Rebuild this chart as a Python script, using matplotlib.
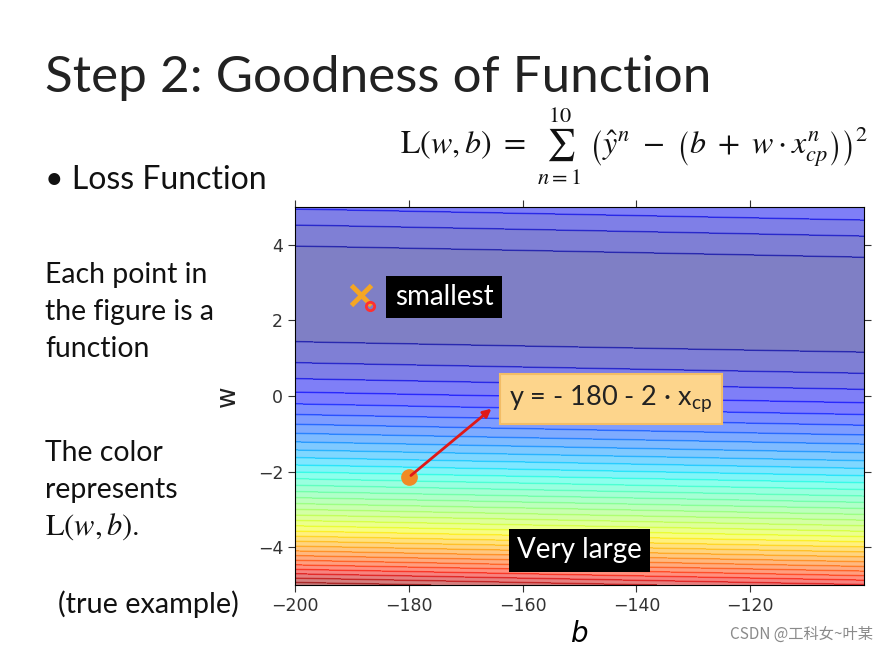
import numpy as np
import matplotlib
matplotlib.use("Agg")
import matplotlib.pyplot as plt

# pokemon data behind the loss surface (cp before evolution, cp after)
x_cp = [338., 333., 328., 207., 226., 25., 179., 60., 208., 606.]
y_hat = [640., 633., 619., 393., 428., 27., 193., 66., 226., 1591.]

b_range = [-200, -100]
w_range = [-5, 5]
b_ticks = [-200, -180, -160, -140, -120]
w_ticks = [-4, -2, 0, 2, 4]

best_b, best_w = -188.4, 2.67      # "smallest"
start_b, start_w = -180, -2.15     # orange point y = -180 - 2*x_cp
mark_b, mark_w = -186.9, 2.39      # red ring next to the cross

plt.rcParams['mathtext.fontset'] = 'custom'
plt.rcParams['mathtext.rm'] = 'Lato'
plt.rcParams['mathtext.it'] = 'Lato:italic'
SANS = 'Lato'

b = np.linspace(b_range[0], b_range[1], 201)
w = np.linspace(w_range[0], w_range[1], 201)
B, W = np.meshgrid(b, w)
Z = np.zeros_like(B)
for xn, yn in zip(x_cp, y_hat):
    Z += (yn - B - W * xn) ** 2
Z = Z / len(x_cp)

fig = plt.figure(figsize=(8.89, 6.54), dpi=100)
ax = fig.add_axes([0.3318, 0.1055, 0.6401, 0.578])

cs = ax.contourf(B, W, Z, 50, alpha=0.5, cmap=plt.get_cmap('jet'))
ax.contour(B, W, Z, levels=cs.levels, cmap=plt.get_cmap('jet'), alpha=0.35, linewidths=1.3)

ax.set_xlim(b_range)
ax.set_ylim(w_range)
ax.set_xticks(b_ticks)
ax.set_yticks(w_ticks)
ax.tick_params(direction='out', top=True, right=True, length=5, labelsize=12.5, colors='#333333')
ax.set_xlabel('$b$', fontsize=20, math_fontfamily='dejavusans', labelpad=4)
ax.set_ylabel('w', fontsize=19, family='DejaVu Sans', labelpad=12, color='#222222')

# markers
ax.plot(best_b, best_w, 'x', color='#f5a623', ms=14, mew=3.5)
ax.plot(mark_b, mark_w, 'o', mfc='none', mec='#ff3030', ms=6, mew=2)
ax.plot(start_b, start_w, 'o', color='#f08a24', ms=11)
ax.annotate('', xy=(-165.1, -0.29), xytext=(start_b, start_w),
            arrowprops=dict(arrowstyle='-|>', color='#e01818', lw=2, mutation_scale=12))

ax.text(-173.8, 2.62, 'smallest', fontsize=20, color='white', family=SANS,
        ha='center', va='center',
        bbox=dict(boxstyle='square,pad=0.3', fc='black', ec='none'))
ax.text(-150.0, -4.08, 'Very large', fontsize=20, color='white', family=SANS,
        ha='center', va='center',
        bbox=dict(boxstyle='square,pad=0.3', fc='black', ec='none'))
ax.text(-144.5, -0.08, r'y = - 180 - 2 · x$_{\mathrm{cp}}$', fontsize=19.5, color='#222222',
        family=SANS, math_fontfamily='custom', ha='center', va='center',
        bbox=dict(boxstyle='square,pad=0.35', fc='#fdd58c', ec='#f3bd66', lw=1.5))

# slide text
fig.text(45 / 889, 1 - 92 / 654, 'Step 2: Goodness of Function', fontsize=36.8,
         family=SANS, color='#222222', va='baseline')
fig.text(45 / 889, 1 - 189 / 654, '• Loss Function', fontsize=23,
         family=SANS, color='#111111', va='baseline')
fig.text(400 / 889, 1 - 154 / 654,
         r'$\mathrm{L}(w,b)\ =\ \sum_{n=1}^{10}\ \left(\hat{y}^n\ -\ \left(b\ +\ w\cdot x_{cp}^n\right)\right)^2$',
         fontsize=23, math_fontfamily='stix', va='baseline', color='#111111')

left_lines = [('Each point in', 283), ('the figure is a', 320), ('function', 357),
              ('The color', 461), ('represents', 498)]
for s, yb in left_lines:
    fig.text(45 / 889, 1 - yb / 654, s, fontsize=20.4, family=SANS,
             color='#111111', va='baseline')
fig.text(45 / 889, 1 - 535 / 654, r'$\mathrm{L}(w,b).$', fontsize=22,
         math_fontfamily='stix', color='#111111', va='baseline')
fig.text(58 / 889, 1 - 613 / 654, '(true example)', fontsize=20.8, family=SANS,
         color='#111111', va='baseline')

fig.text(873 / 889, 1 - 634 / 654, 'CSDN @工科女~叶某', fontsize=11,
         family=['Noto Sans CJK SC', 'DejaVu Sans'], color='#8a8a8a',
         ha='right', va='center')

fig.savefig('out.png', dpi=100)
